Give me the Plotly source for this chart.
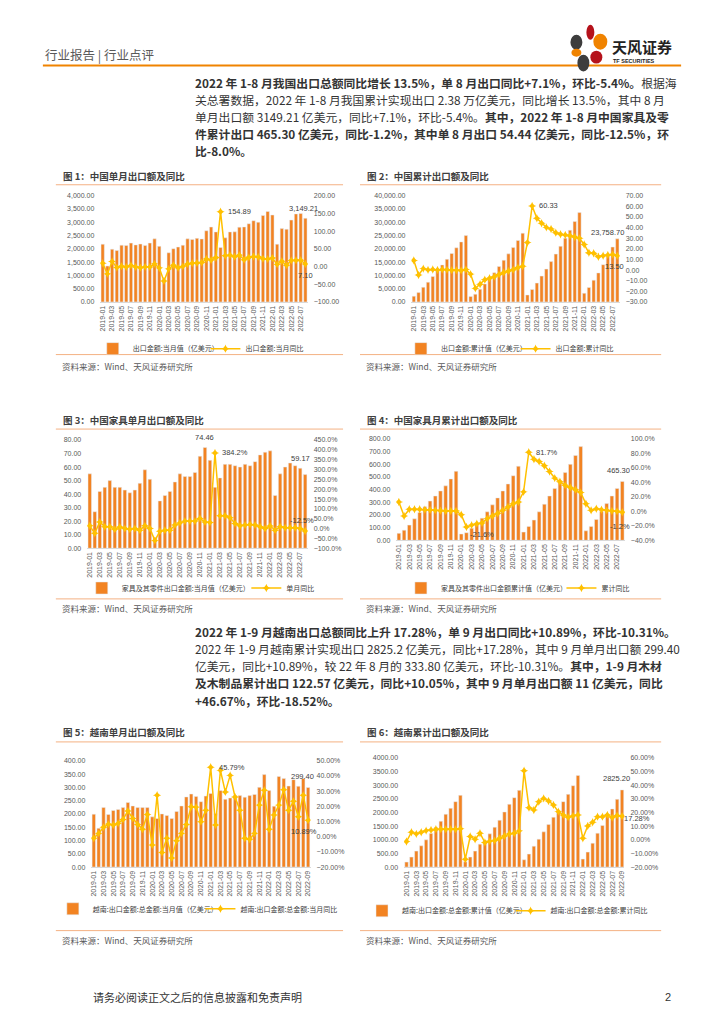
import plotly.graph_objects as go
import pandas as pd

W, H = 724, 1024
def px(x): return x / W
def py(y): return 1 - y / H

FONT = "Noto Sans CJK SC"
NUMFONT = "Liberation Sans, Noto Sans CJK SC"
BAR_C = "#F28322"
LINE_C = "#FFC000"

# ---------------- data ----------------
months_cn = [p.strftime('%Y-%m') for p in pd.period_range('2019-01', '2022-08', freq='M')]
months_vn = [p.strftime('%Y-%m') for p in pd.period_range('2019-01', '2022-09', freq='M')]
ticks_cn = months_cn[::2]
ticks_vn = months_vn[::2]

# Fig 1: China monthly exports (亿美元) and YoY (%)
cn_month_value = [2175, 1352, 1986, 1934, 2138, 2128, 2215, 2148, 2181, 2129, 2217, 2375,
                  2093, 831, 1851, 2004, 2067, 2136, 2375, 2353, 2393, 2372, 2680, 2819,
                  2636, 2050, 2412, 2636, 2639, 2815, 2823, 2943, 3057, 3001, 3255, 3405,
                  3273, 2174, 2760, 2736, 3082, 3313, 3330, 3149.21]
cn_month_yoy = [9.1, -20.7, 14.2, -2.7, 1.1, -1.3, 3.3, -1.0, -3.2, -0.9, -1.1, 7.6,
                -3.8, -40.6, -6.6, 3.5, -3.3, 0.5, 7.2, 9.5, 9.9, 11.4, 21.1, 18.1,
                24.9, 154.89, 30.6, 32.3, 27.9, 32.2, 19.3, 25.6, 28.1, 27.1, 22.0, 20.9,
                24.1, 6.2, 14.7, 3.9, 16.9, 17.9, 18.0, 7.10]

# Fig 2: China cumulative exports and YoY
cn_cum_value = [2175, 3527, 5513, 7447, 9585, 11713, 13928, 16076, 18257, 20386, 22603, 24985,
                2093, 2924, 4775, 6779, 8846, 10982, 13357, 15710, 18103, 20475, 23155, 25900,
                2636, 4686, 7098, 9734, 12373, 15188, 18011, 20954, 24011, 27012, 30267, 33640,
                3273, 5447, 8207, 10943, 14025, 17338, 20668, 23758.70]
cn_cum_yoy = [9.1, -4.6, 1.4, 0.2, 0.5, 0.1, 0.6, 0.3, -0.1, -0.2, -0.3, 0.5,
              -3.8, -17.2, -13.3, -9.0, -7.7, -6.2, -4.1, -2.3, -0.8, 0.4, 2.5, 3.6,
              25.9, 60.33, 48.8, 44.0, 40.2, 38.6, 35.2, 33.7, 33.0, 32.3, 31.1, 29.9,
              24.1, 16.3, 15.8, 12.5, 13.5, 14.2, 14.6, 13.50]

# Fig 3: China furniture monthly exports and YoY
fur_month_value = [55, 27, 42, 45, 50, 45, 45, 43, 41, 43, 48, 58,
                   51, 8, 35, 39, 42, 49, 55, 53, 53, 56, 68, 74.46,
                   65, 45, 52, 62, 62, 61, 60, 62, 61, 64, 69, 71,
                   72, 39, 55, 60, 63, 61, 59.17, 54.44]
fur_month_yoy = [14, -24, 34, 9, 9, -3, 8, 1, -3, 1, -8, 14,
                 1, -61, -13, -8, -8, 18, 29, 38, 38, 38, 51, 34,
                 31, 384.2, 65, 65, 55, 26, 14, 18, 21, 18, 9, 1,
                 13, -8, 9, 4, 4, 4, 1, -12.5]

# Fig 4: China furniture cumulative exports and YoY
fur_cum_value = [55, 80, 120, 170, 220, 265, 310, 350, 390, 430, 485, 545,
                 50, 60, 95, 135, 175, 225, 280, 335, 390, 445, 510, 585,
                 65, 110, 160, 225, 285, 350, 410, 470, 535, 600, 670, 740,
                 75, 110, 165, 230, 290, 350, 410, 465.30]
fur_cum_yoy = [13, -6.5, 3, 3, 3, 2.3, 2, 1.4, 1, 0.5, 0.5, 0.5,
               -4.6, -21.6, -19, -17, -16, -10, -6.5, -3, 1.4, 6, 10.5, 13,
               27, 81.7, 72, 69, 63, 55, 46, 41, 36, 33, 30, 26,
               10.5, 1.4, 3.7, 2.3, 1.4, 0.5, 0, -1.2]

# Fig 5: Vietnam monthly exports and YoY
vn_month_value = [199, 146, 224, 198, 213, 217, 224, 243, 230, 224, 224, 224,
                  189, 183, 200, 194, 183, 209, 230, 264, 275, 266, 246, 267,
                  277, 202, 288, 255, 260, 269, 269, 263, 269, 273, 300, 348,
                  288, 229, 341, 333, 305, 329, 304, 333.80, 299.40]
vn_month_yoy = [-1, 2.2, 6.2, 8.3, 7.7, 8.8, 11.4, 17, 12, 8.1, 4.9, 14.7,
                -5.4, 27.3, -10.4, -1, -14, -2.6, 2.2, 8.1, 19.7, 19.5, 9.9, 17.5,
                45.79, 7.7, 43.7, 29.5, 40.4, 26.2, 17.5, -1, -1.7, 2.2, 20.8, 30.6,
                4.9, 14.3, 20.8, 31, 17.5, 23.4, 13.1, 27.3, 10.89]

# Fig 6: Vietnam cumulative exports and YoY
vn_cum_value = [182, 365, 584, 778, 997, 1228, 1459, 1678, 1933, 2152, 2395, 2626,
                195, 365, 584, 839, 973, 1216, 1459, 1714, 2018, 2298, 2541, 2808,
                267, 474, 766, 1021, 1289, 1556, 1824, 2055, 2395, 2662, 2979, 3356,
                292, 547, 875, 1240, 1520, 1848, 2128, 2480, 2825.20]
vn_cum_yoy = [-1.3, 5.5, 4.3, 5.5, 6.7, 7.2, 7.7, 7.7, 7.7, 7.7, 7.7, 8.0,
              -14.2, 2.4, 0.4, 4.8, -2.0, -1.0, -0.6, 1.1, 2.8, 4.3, 4.8, 6.5,
              50.5, 23.5, 21.8, 27.9, 30.3, 28.4, 25.5, 20.6, 18.2, 16.5, 17.5, 18.2,
              1.1, 10.1, 12.8, 16.9, 16.9, 18.2, 16.2, 17.7, 17.28]

# ---------------- chart specs ----------------
charts = [
    dict(cats=months_cn, ticks=ticks_cn, bar=cn_month_value, line=cn_month_yoy,
         dx=(99.6, 307.6), dy=(193, 300),
         ly=dict(range=[0, 4000], dtick=500, fmt=",.2f", suf=""),
         ry=dict(range=[-100, 200], dtick=50, fmt=".2f", suf=""),
         names=("出口金额:当月值（亿美元）", "出口金额:当月同比"),
         leg=((92, 347), (205, 347)),
         title="图 1：中国单月出口额及同比", box=(55, 343), ty=173, uline=182, bline=353, src=364),
    dict(cats=months_cn, ticks=ticks_cn, bar=cn_cum_value, line=cn_cum_yoy,
         dx=(411.6, 620.4), dy=(193, 300),
         ly=dict(range=[0, 40000], dtick=5000, fmt=",.2f", suf=""),
         ry=dict(range=[-30, 70], dtick=10, fmt=".2f", suf=""),
         names=("出口金额:累计值（亿美元）", "出口金额:累计同比"),
         leg=((401, 347), (516, 347)),
         title="图 2：中国累计出口额及同比", box=(360, 662), ty=173, uline=182, bline=353, src=364),
    dict(cats=months_cn, ticks=ticks_cn, bar=fur_month_value, line=fur_month_yoy,
         dx=(86.5, 307.5), dy=(439, 548),
         ly=dict(range=[0, 80], dtick=10, fmt=".2f", suf=""),
         ry=dict(range=[-100, 450], dtick=50, fmt=".1f", suf="%"),
         names=("家具及其零件出口金额:当月值（亿美元）", "单月同比"),
         leg=((81, 588), (246, 588)),
         title="图 3：中国家具单月出口额及同比", box=(55, 343), ty=419, uline=428, bline=599, src=608),
    dict(cats=months_cn, ticks=ticks_cn, bar=fur_cum_value, line=fur_cum_yoy,
         dx=(396.4, 625.6), dy=(438, 540),
         ly=dict(range=[0, 800], dtick=100, fmt=".2f", suf=""),
         ry=dict(range=[-40, 100], dtick=20, fmt=".1f", suf="%"),
         names=("家具及其零件出口金额累计值（亿美元）", "累计同比"),
         leg=((401, 588), (562, 588)),
         title="图 4：中国家具月累计出口额及同比", box=(360, 662), ty=419, uline=428, bline=599, src=608),
    dict(cats=months_vn, ticks=ticks_vn, bar=vn_month_value, line=vn_month_yoy,
         dx=(90.6, 310.4), dy=(762, 869),
         ly=dict(range=[0, 400], dtick=50, fmt=".2f", suf=""),
         ry=dict(range=[-20, 50], dtick=10, fmt=".2f", suf="%"),
         names=("越南:出口金额:总金额:当月值（亿美元）", "越南:出口金额:总金额:当月同比"),
         leg=((52, 911), (200, 911)),
         title="图 5：越南单月出口额及同比", box=(55, 343), ty=733, uline=743, bline=933, src=942),
    dict(cats=months_vn, ticks=ticks_vn, bar=vn_cum_value, line=vn_cum_yoy,
         dx=(404.2, 625.2), dy=(759, 869),
         ly=dict(range=[0, 4000], dtick=500, fmt=".2f", suf=""),
         ry=dict(range=[-20, 60], dtick=10, fmt=".2f", suf="%"),
         names=("越南:出口金额:总金额:累计值（亿美元）", "越南:出口金额:总金额:累计同比"),
         leg=((362, 913), (511, 913)),
         title="图 6：越南累计出口额及同比", box=(360, 662), ty=733, uline=743, bline=933, src=942),
]

fig = go.Figure()
layout = {}
shapes = []
annotations = []
tickfont = dict(family=NUMFONT, size=7, color="#595959")

for i, c in enumerate(charts, start=1):
    xa = "x" if i == 1 else f"x{i}"
    yl = f"y{2*i-1}" if i > 1 else "y"
    yr = f"y{2*i}"
    leg1 = "legend" if i == 1 else f"legend{2*i-1}"
    leg2 = f"legend{2*i}"
    fig.add_trace(go.Bar(x=c["cats"], y=c["bar"], name=c["names"][0], marker_color=BAR_C,
                         xaxis=xa, yaxis=yl, legend=leg1, showlegend=True))
    fig.add_trace(go.Scatter(x=c["cats"], y=c["line"], name=c["names"][1], mode="lines+markers",
                             line=dict(color=LINE_C, width=1.5),
                             marker=dict(symbol="star-diamond", size=6, color=LINE_C),
                             xaxis=xa, yaxis=yr, legend=leg2, showlegend=True))
    xkey = "xaxis" if i == 1 else f"xaxis{i}"
    ylkey = "yaxis" if i == 1 else f"yaxis{2*i-1}"
    yrkey = f"yaxis{2*i}"
    n = len(c["cats"])
    layout[xkey] = dict(domain=[px(c["dx"][0]), px(c["dx"][1])], anchor=yl, type="category",
                        range=[-0.5, n - 0.5], tickmode="array", tickvals=c["ticks"], ticktext=c["ticks"],
                        tickangle=-90, tickfont=tickfont, showline=True, linecolor="#D9D9D9",
                        linewidth=1, ticks="", showgrid=False, zeroline=False, fixedrange=True)
    layout[ylkey] = dict(domain=[py(c["dy"][1]), py(c["dy"][0])], anchor=xa,
                         range=c["ly"]["range"], dtick=c["ly"]["dtick"], tick0=0,
                         tickformat=c["ly"]["fmt"], ticksuffix=c["ly"]["suf"],
                         tickfont=tickfont, showgrid=False, zeroline=False, showline=False,
                         ticklabelstandoff=5)
    layout[yrkey] = dict(overlaying=yl, side="right", anchor=xa,
                         range=c["ry"]["range"], dtick=c["ry"]["dtick"], tick0=0,
                         tickformat=c["ry"]["fmt"], ticksuffix=c["ry"]["suf"],
                         tickfont=tickfont, showgrid=False, zeroline=False, showline=False,
                         ticklabelstandoff=5)
    for lk, (lx, lyy) in zip((leg1, leg2), c["leg"]):
        layout[lk] = dict(x=px(lx), y=py(lyy), xanchor="left", yanchor="middle",
                          orientation="h", font=dict(family=FONT, size=7, color="#404040"),
                          bgcolor="rgba(0,0,0,0)", itemwidth=30)
    # title, rules, source
    annotations.append(dict(text="<b>" + c["title"] + "</b>", x=px(c["box"][0] + 5), y=py(c["ty"]),
                            xref="paper", yref="paper", xanchor="left", yanchor="middle",
                            showarrow=False, font=dict(family=FONT, size=9.5, color="#404040")))
    annotations.append(dict(text="资料来源：Wind、天风证券研究所", x=px(c["box"][0] + 4), y=py(c["src"]),
                            xref="paper", yref="paper", xanchor="left", yanchor="middle",
                            showarrow=False, font=dict(family=FONT, size=8.5, color="#595959")))
    for yy in (c["uline"], c["bline"]):
        shapes.append(dict(type="line", xref="paper", yref="paper",
                           x0=px(c["box"][0]), x1=px(c["box"][1]), y0=py(yy), y1=py(yy),
                           line=dict(color="#F4B183", width=1)))

# data labels
lab_font = dict(family=NUMFONT, size=7.5, color="#404040")
def lab(ax, ay, xv, yv, text, xanchor="center", yanchor="middle", xs=0, ys=0):
    annotations.append(dict(x=xv, y=yv, xref=ax, yref=ay, text=text, showarrow=False,
                            xanchor=xanchor, yanchor=yanchor, xshift=xs, yshift=ys, font=lab_font))

lab("x", "y2", months_cn[25], cn_month_yoy[25], "154.89", "left", xs=5)
lab("x", "y", months_cn[-1], cn_month_value[-1], "3,149.21", "center", "bottom", xs=-2, ys=3)
lab("x", "y2", months_cn[-1], cn_month_yoy[-1], "7.10", "center", "top", xs=0, ys=-5)

lab("x2", "y4", months_cn[25], cn_cum_yoy[25], "60.33", "left", xs=5)
lab("x2", "y3", months_cn[-1], cn_cum_value[-1], "23,758.70", "right", "bottom", xs=9, ys=0)
lab("x2", "y4", months_cn[-1], cn_cum_yoy[-1], "13.50", "center", "top", xs=-3, ys=-4)

lab("x3", "y5", months_cn[23], fur_month_value[23], "74.46", "center", "bottom", ys=3)
lab("x3", "y6", months_cn[25], fur_month_yoy[25], "384.2%", "left", xs=5)
lab("x3", "y5", months_cn[42], fur_month_value[42], "59.17", "center", "bottom", ys=3)
lab("x3", "y6", months_cn[-1], fur_month_yoy[-1], "-12.5%", "center", "bottom", xs=-3, ys=4)

lab("x4", "y8", months_cn[25], fur_cum_yoy[25], "81.7%", "left", xs=5)
lab("x4", "y8", months_cn[13], fur_cum_yoy[13], "-21.6%", "left", "top", xs=2, ys=-1)
lab("x4", "y7", months_cn[-1], fur_cum_value[-1], "465.30", "center", "bottom", xs=-4, ys=4)
lab("x4", "y8", months_cn[-1], fur_cum_yoy[-1], "-1.2%", "center", "top", xs=-2, ys=-8)

lab("x5", "y10", months_vn[24], vn_month_yoy[24], "45.79%", "left", xs=6)
lab("x5", "y9", months_vn[-1], vn_month_value[-1], "299.40", "center", "bottom", xs=-6, ys=5)
lab("x5", "y10", months_vn[-1], vn_month_yoy[-1], "10.89%", "center", "top", xs=-4, ys=-5)

lab("x6", "y11", months_vn[-1], vn_cum_value[-1], "2825.20", "center", "bottom", xs=-6, ys=5)
lab("x6", "y12", months_vn[-1], vn_cum_yoy[-1], "17.28%", "left", xs=0, ys=-2)

# ---------------- page furniture ----------------
annotations.append(dict(text="行业报告 | 行业点评", x=px(42), y=py(51), xref="paper", yref="paper",
                        xanchor="left", yanchor="middle", showarrow=False,
                        font=dict(family=FONT, size=12.5, color="#595959")))
shapes.append(dict(type="line", xref="paper", yref="paper", x0=px(42), x1=px(682), y0=py(62), y1=py(62),
                   line=dict(color="#F08300", width=2)))
# logo petals
petals = [((587, 21), (595, 36), "#B5121B"), ((594, 30), (608, 46), "#F08300"),
          ((571, 31), (583, 46), "#3D3D3D"), ((572, 45), (582, 53), "#F08300"),
          ((591, 47), (603, 60), "#B5121B"), ((578, 51), (590, 68), "#3D3D3D")]
for (x0, y0), (x1, y1), col in petals:
    shapes.append(dict(type="circle", xref="paper", yref="paper", x0=px(x0), x1=px(x1),
                       y0=py(y1), y1=py(y0), fillcolor=col, line=dict(width=0)))
annotations.append(dict(text="<b>天风证券</b>", x=px(611), y=py(43), xref="paper", yref="paper",
                        xanchor="left", yanchor="middle", showarrow=False,
                        font=dict(family=FONT, size=15, color="#222222")))
annotations.append(dict(text="<b>TF SECURITIES</b>", x=px(612), y=py(57), xref="paper", yref="paper",
                        xanchor="left", yanchor="middle", showarrow=False,
                        font=dict(family=NUMFONT, size=5.5, color="#222222")))

para1 = [
    "<b>2022 年 1-8 月我国出口总额同比增长 13.5%，单 8 月出口同比+7.1%，环比-5.4%。</b>根据海",
    "关总署数据，2022 年 1-8 月我国累计实现出口 2.38 万亿美元，同比增长 13.5%，其中 8 月",
    "单月出口额 3149.21 亿美元，同比+7.1%，环比-5.4%。<b>其中，2022 年 1-8 月中国家具及零</b>",
    "<b>件累计出口 465.30 亿美元，同比-1.2%，其中单 8 月出口 54.44 亿美元，同比-12.5%，环</b>",
    "<b>比-8.0%。</b>",
]
para2 = [
    "<b>2022 年 1-9 月越南出口总额同比上升 17.28%，单 9 月出口同比+10.89%，环比-10.31%。</b>",
    "2022 年 1-9 月越南累计实现出口 2825.2 亿美元，同比+17.28%，其中 9 月单月出口额 299.40",
    "亿美元，同比+10.89%，较 22 年 8 月的 333.80 亿美元，环比-10.31%。<b>其中，1-9 月木材</b>",
    "<b>及木制品累计出口 122.57 亿美元，同比+10.05%，其中 9 月单月出口额 11 亿美元，同比</b>",
    "<b>+46.67%，环比-18.52%。</b>",
]
for lines, y0 in ((para1, 79), (para2, 632)):
    for k, t in enumerate(lines):
        annotations.append(dict(text=t, x=px(193), y=py(y0 + k * 17.2), xref="paper", yref="paper",
                                xanchor="left", yanchor="middle", showarrow=False,
                                font=dict(family=FONT, size=11.8, color="#333333")))

annotations.append(dict(text="请务必阅读正文之后的信息披露和免责声明", x=px(90), y=py(1000),
                        xref="paper", yref="paper", xanchor="left", yanchor="middle", showarrow=False,
                        font=dict(family=FONT, size=11, color="#333333")))
annotations.append(dict(text="2", x=px(664), y=py(1000), xref="paper", yref="paper",
                        xanchor="left", yanchor="middle", showarrow=False,
                        font=dict(family=NUMFONT, size=11, color="#333333")))

fig.update_layout(width=W, height=H, margin=dict(l=0, r=0, t=0, b=0),
                  paper_bgcolor="white", plot_bgcolor="white", bargap=0.3, showlegend=True,
                  font=dict(family=FONT), shapes=shapes, annotations=annotations,
                  hovermode=False, **layout)
fig.write_html("out.html", config={"displayModeBar": False},
               post_script="document.body.style.margin='0';document.body.style.padding='0';"
                           "document.body.style.overflow='hidden';")
